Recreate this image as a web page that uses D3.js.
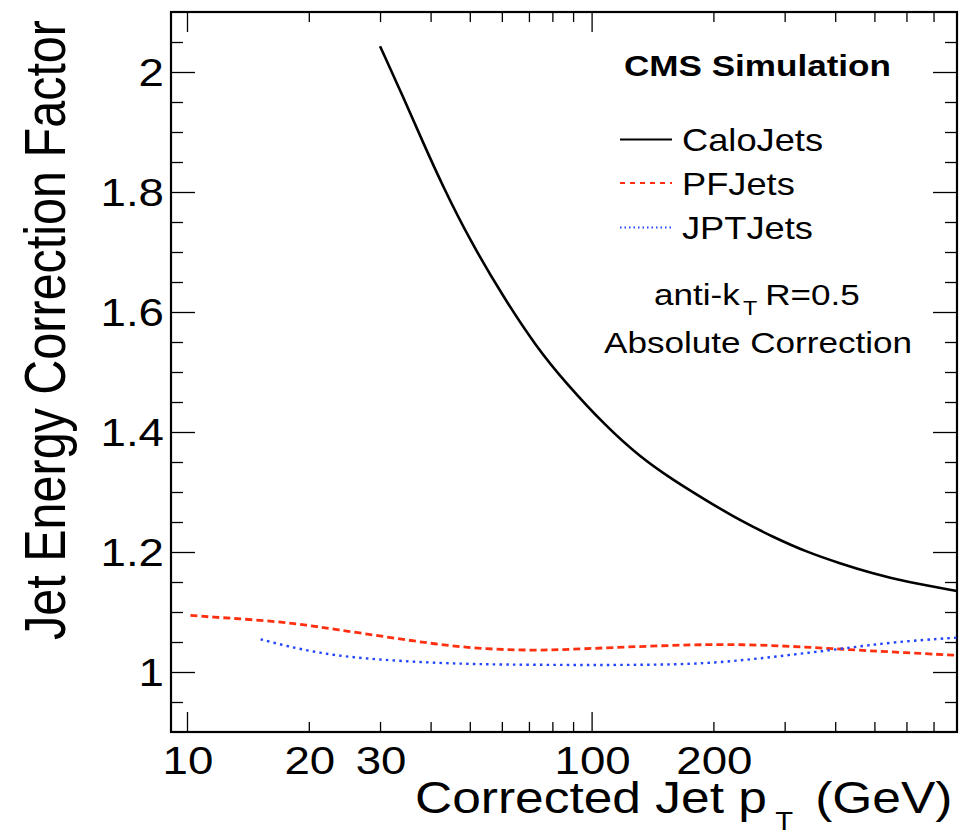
<!DOCTYPE html>
<html>
<head>
<meta charset="utf-8">
<script src="https://cdn.jsdelivr.net/npm/d3@7"></script>
<style>
  body { margin: 0; background: #fff; }
  svg { display: block; font-family: "Liberation Sans", Arial, Helvetica, sans-serif; }
</style>
</head>
<body>
<div id="chart"></div>
<script>
//data
var caloPt   = [30, 34.3, 38.4, 43, 50, 60.5, 73, 86, 109, 132, 159, 192, 232, 281, 340, 411, 496, 600, 800];
var caloCorr = [2.043, 1.957, 1.881, 1.808, 1.72, 1.625, 1.542, 1.483, 1.408, 1.358, 1.32, 1.286, 1.253, 1.225, 1.2, 1.181, 1.164, 1.15, 1.135];

var pfPt   = [10.2, 11.4, 14.6, 18.7, 23.5, 31.2, 41.4, 55, 73, 87, 122, 178, 237, 315, 418, 556, 800];
var pfCorr = [1.0945, 1.0917, 1.0873, 1.0807, 1.0707, 1.0583, 1.046, 1.0378, 1.036, 1.0375, 1.0417, 1.0457, 1.046, 1.0428, 1.0378, 1.0333, 1.0278];

var jptPt   = [15.2, 17.7, 21.3, 25.8, 34.3, 45.5, 60.5, 87, 122, 178, 237, 315, 418, 556, 800];
var jptCorr = [1.0545, 1.0428, 1.0317, 1.024, 1.0178, 1.014, 1.0123, 1.0117, 1.0117, 1.0128, 1.0195, 1.029, 1.039, 1.05, 1.0573];

var xMajor = [10, 100];
var xMinor = [20, 30, 40, 50, 60, 70, 80, 90, 200, 300, 400, 500, 600, 700];
var xLabels = [10, 20, 30, 100, 200];
var yLabels = [1, 1.2, 1.4, 1.6, 1.8, 2];

var seriesNames = ["CaloJets", "PFJets", "JPTJets"];

var W = 970, H = 835;
var mLeft = 171, mRight = 957, mTop = 12, mBottom = 732;
var sx = 1.17; //glyphs in the picture are a bit wide

var svg = d3.select("#chart").append("svg")
    .attr("width", W)
    .attr("height", H);

var xScale = d3.scaleLog().domain([9.13, 800]).range([mLeft, mRight]);
var yScale = d3.scaleLinear().domain([0.9, 2.1]).range([mBottom, mTop]);

//axes: ticks point inward, on all four sides
function addXAxis(axisFn, y, vals, len){
  svg.append("g")
    .attr("transform", "translate(0," + y + ")")
    .call(axisFn(xScale).tickValues(vals).tickSizeInner(len).tickSizeOuter(0).tickFormat(""))
    .call(function(g){ g.select(".domain").remove(); })
    .selectAll("line").attr("stroke", "#000").attr("stroke-width", 1.3);
}
addXAxis(d3.axisBottom, mBottom, xMajor, -20);
addXAxis(d3.axisBottom, mBottom, xMinor, -10);
addXAxis(d3.axisTop, mTop, xMajor, -20);
addXAxis(d3.axisTop, mTop, xMinor, -10);

var yMajor = d3.range(1, 2.01, 0.2);
var yMinor = d3.range(0.95, 2.1, 0.05).filter(function(v){
  return !yMajor.some(function(m){ return Math.abs(m - v) < 1e-6; });
});

function addYAxis(axisFn, x, vals, len){
  svg.append("g")
    .attr("transform", "translate(" + x + ",0)")
    .call(axisFn(yScale).tickValues(vals).tickSizeInner(len).tickSizeOuter(0).tickFormat(""))
    .call(function(g){ g.select(".domain").remove(); })
    .selectAll("line").attr("stroke", "#000").attr("stroke-width", 1.3);
}
addYAxis(d3.axisLeft, mLeft, yMajor, -24);
addYAxis(d3.axisLeft, mLeft, yMinor, -12);
addYAxis(d3.axisRight, mRight, yMajor, -24);
addYAxis(d3.axisRight, mRight, yMinor, -12);

svg.append("rect")
  .attr("x", mLeft).attr("y", mTop)
  .attr("width", mRight - mLeft).attr("height", mBottom - mTop)
  .attr("fill", "none").attr("stroke", "#000").attr("stroke-width", 2.2);

//tick labels
svg.selectAll(".xlab").data(xLabels).enter().append("text")
  .attr("class", "xlab")
  .attr("transform", function(d){ return "translate(" + (xScale(d) + 1) + ",774) scale(" + sx + ",1)"; })
  .attr("text-anchor", "middle")
  .attr("font-size", 39)
  .text(function(d){ return d; });

svg.selectAll(".ylab").data(yLabels).enter().append("text")
  .attr("class", "ylab")
  .attr("transform", function(d){ return "translate(164," + (yScale(d) + 14) + ") scale(" + sx + ",1)"; })
  .attr("text-anchor", "end")
  .attr("font-size", 39)
  .text(function(d){ return d; });

//axis titles
var xt = svg.append("text")
  .attr("transform", "translate(415,813) scale(" + sx + ",1)")
  .attr("font-size", 44);
xt.append("tspan").attr("x", 0).text("Corrected Jet p");
xt.append("tspan").attr("x", 308).attr("dy", 17).attr("font-size", 25).text("T");
xt.append("tspan").attr("x", 342).attr("dy", -17).text("(GeV)");

svg.append("text")
  .attr("transform", "translate(65,20) scale(" + sx + ",1) rotate(-90)")
  .attr("text-anchor", "end")
  .attr("font-size", 48.5)
  .attr("textLength", 620)
  .attr("lengthAdjust", "spacingAndGlyphs")
  .text("Jet Energy Correction Factor");

//curves
var line = d3.line()
  .x(function(d){ return xScale(d[0]); })
  .y(function(d){ return yScale(d[1]); })
  .curve(d3.curveBasis);

var series = [
  {name: seriesNames[0], pts: d3.zip(caloPt, caloCorr), color: "#000", width: 2.6, dash: null, legDash: null, legW: 2},
  {name: seriesNames[1], pts: d3.zip(pfPt, pfCorr), color: "#ff3010", width: 2.8, dash: "7,4", legDash: "5,5", legW: 1.8},
  {name: seriesNames[2], pts: d3.zip(jptPt, jptCorr), color: "#2244ff", width: 2.4, dash: "2.5,4.2", legDash: "1.5,3", legW: 1.8}
];

svg.selectAll(".curve").data(series).enter().append("path")
  .attr("class", "curve")
  .attr("d", function(d){ return line(d.pts); })
  .attr("fill", "none")
  .attr("stroke", function(d){ return d.color; })
  .attr("stroke-width", function(d){ return d.width; })
  .attr("stroke-dasharray", function(d){ return d.dash; });

//legend
svg.append("text")
  .attr("transform", "translate(624,76) scale(" + sx + ",1)")
  .attr("font-size", 30)
  .attr("font-weight", "bold")
  .text("CMS Simulation");

var legY = [139.5, 183, 227.5];
var leg = svg.selectAll(".leg").data(series).enter().append("g").attr("class", "leg");
leg.append("line")
  .attr("x1", 620).attr("x2", 672)
  .attr("y1", function(d, i){ return legY[i]; })
  .attr("y2", function(d, i){ return legY[i]; })
  .attr("stroke", function(d){ return d.color; })
  .attr("stroke-width", function(d){ return d.legW; })
  .attr("stroke-dasharray", function(d){ return d.legDash; });
leg.append("text")
  .attr("transform", function(d, i){ return "translate(682," + (legY[i] + 11.5) + ") scale(" + sx + ",1)"; })
  .attr("font-size", 31)
  .text(function(d){ return d.name; });

var ak = svg.append("text")
  .attr("transform", "translate(654,305) scale(" + sx + ",1)")
  .attr("font-size", 30);
ak.append("tspan").attr("x", 0).text("anti-k");
ak.append("tspan").attr("x", 76).attr("dy", 10).attr("font-size", 20).text("T");
ak.append("tspan").attr("x", 95).attr("dy", -10).text("R=0.5");

svg.append("text")
  .attr("transform", "translate(604,353) scale(" + sx + ",1)")
  .attr("font-size", 30)
  .text("Absolute Correction");
</script>
</body>
</html>
